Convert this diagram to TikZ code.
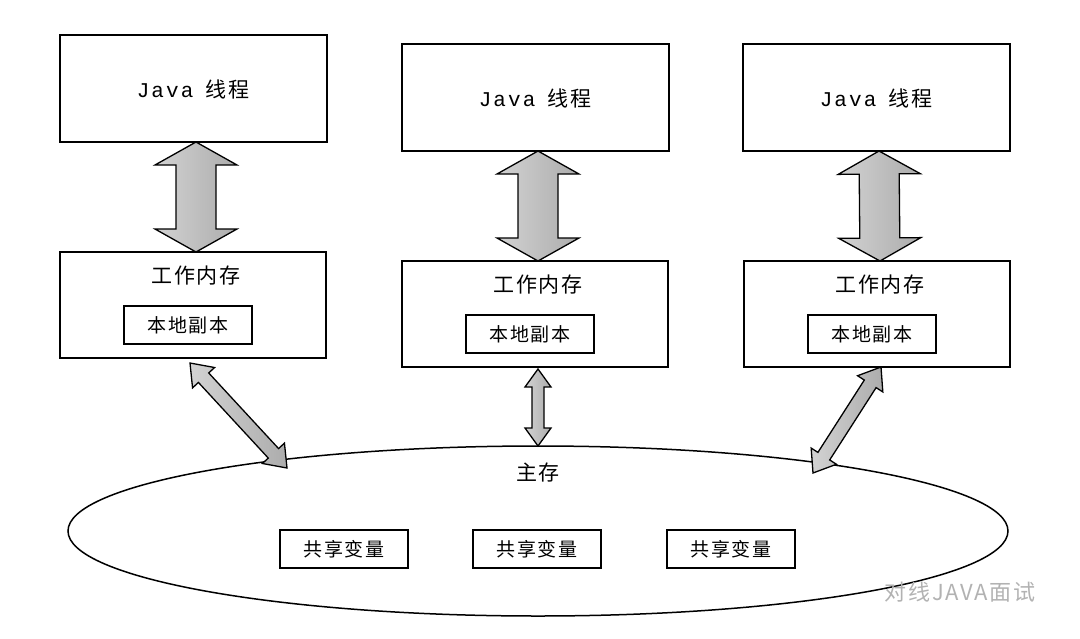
\documentclass[tikz,border=0pt]{standalone}
\usepackage{fontspec}
\setmainfont{Liberation Serif}
\newfontfamily\cjk{Noto Sans CJK SC}[LetterSpace=8]
\newfontfamily\mono{Liberation Mono}[LetterSpace=10]
\usetikzlibrary{calc}
\newcommand\darrow[5]{%
  \coordinate (ha) at ($(#1)!#5!(#2)$);
  \coordinate (hb) at ($(#2)!#5!(#1)$);
  \draw[arr] (#1) -- ($(ha)!#3!90:(#2)$) -- ($(ha)!#4!90:(#2)$) -- ($(hb)!#4!-90:(#1)$) -- ($(hb)!#3!-90:(#1)$) -- (#2)
   -- ($(hb)!#3!90:(#1)$) -- ($(hb)!#4!90:(#1)$) -- ($(ha)!#4!-90:(#2)$) -- ($(ha)!#3!-90:(#2)$) -- cycle;}
\begin{document}
\begin{tikzpicture}[x=1pt,y=-1pt,
  box/.style={draw,line width=1.3pt},
  sbox/.style={draw,line width=1.1pt,minimum width=128pt,minimum height=38pt,font=\fontsize{19}{19}\selectfont\cjk},
  jt/.style={font=\fontsize{21}{21}\selectfont},
  cj/.style={font=\fontsize{21}{21}\selectfont\cjk},
  arr/.style={line width=1.3pt,left color=gray!35,right color=gray!65,line join=miter}]
\useasboundingbox (0,0) rectangle (1080,638);
% ellipse
\draw[line width=1.5pt] (538,531) ellipse [x radius=470,y radius=85];
\node[cj] (mm) at (538,473) {主存};
\node[sbox] (s1) at (344,549) {共享变量};
\node[sbox] (s2) at (537,549) {共享变量};
\node[sbox] (s3) at (731,549) {共享变量};
% threads
\foreach \i/\x/\y in {1/60/35,2/402/44,3/743/44}{
  \draw[box] (\x,\y) rectangle ++(267,107);
  \node[jt] (j\i) at (\x+133,\y+54) {\mono Java\hspace{12pt}\cjk 线程};
  \coordinate (jb\i) at (\x+136,\y+107);
}
\foreach \i/\x/\y in {1/60/252,2/402/261,3/744/261}{
  \draw[box] (\x,\y) rectangle ++(266,106);
  \coordinate (wt\i) at (\x+136,\y);
  \node[cj] (w\i) at (\x+136,\y+24) {工作内存};
  \node[sbox] (l\i) at (\x+128,\y+73) {本地副本};
}
\darrow{jb1}{wt1}{41pt}{20pt}{23pt}
\darrow{jb2}{wt2}{41pt}{20pt}{23pt}
\darrow{jb3}{wt3}{41pt}{20pt}{23pt}
\coordinate (a1) at (190,363); \coordinate (b1) at (287,468);
\coordinate (a2) at (538,369); \coordinate (b2) at (538,446);
\coordinate (a3) at (881,367); \coordinate (b3) at (813,473);
\darrow{a1}{b1}{15pt}{7pt}{20pt}
\darrow{a2}{b2}{13pt}{6pt}{18pt}
\darrow{a3}{b3}{15pt}{7pt}{20pt}
\node[font=\fontsize{22}{22}\selectfont\cjk,text=gray!60] (wm) at (960,592) {对线JAVA面试};
\end{tikzpicture}
\end{document}
